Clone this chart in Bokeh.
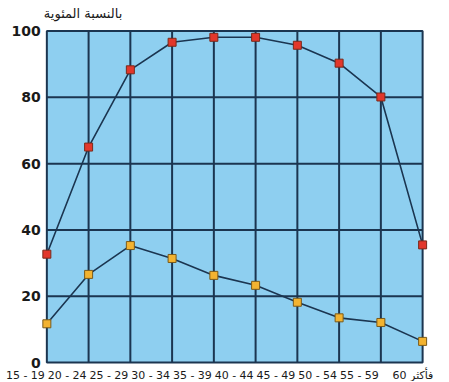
from bokeh.plotting import figure
from bokeh.models import Range1d, FixedTicker
from bokeh.core.properties import value
from bokeh.embed import file_html
from bokeh.resources import INLINE

# ---- data ----
age_groups = ["15 - 19", "20 - 24", "25 - 29", "30 - 34", "35 - 39",
              "40 - 44", "45 - 49", "50 - 54", "55 - 59", "60 فأكثر"]
series_red = [32.7, 65.0, 88.3, 96.6, 98.1, 98.1, 95.7, 90.3, 80.1, 35.5]
series_orange = [11.7, 26.6, 35.3, 31.4, 26.3, 23.3, 18.2, 13.5, 12.1, 6.4]
y_ticks = [0, 20, 40, 60, 80, 100]
y_title = "بالنسبة المئوية"

idx = list(range(len(age_groups)))

NAVY = "#1b3550"
BLUE = "#8ecff0"
TEXT = "#1a1a1a"

p = figure(frame_width=448, frame_height=381,
           min_border_left=0, min_border_right=0,
           min_border_top=0, min_border_bottom=0,
           x_range=Range1d(-1.11, 9.62),
           y_range=Range1d(-5.7, 109.2),
           output_backend="svg", toolbar_location=None,
           background_fill_color="white", border_fill_color="white")
p.outline_line_color = None
p.xgrid.visible = False
p.ygrid.visible = False
p.xaxis.visible = False

# y axis, pinned to the left edge of the chart area
p.yaxis.fixed_location = idx[0]
p.yaxis.ticker = FixedTicker(ticks=y_ticks)
p.yaxis.axis_line_color = None
p.yaxis.major_tick_line_color = None
p.yaxis.minor_tick_line_color = None
p.yaxis.major_tick_out = 0
p.yaxis.major_tick_in = 0
p.yaxis.major_label_standoff = 6
p.yaxis.major_label_text_font = "DejaVu Sans"
p.yaxis.major_label_text_font_style = "bold"
p.yaxis.major_label_text_font_size = "14px"
p.yaxis.major_label_text_color = TEXT

# plot area background + border
p.quad(left=idx[0], right=idx[-1], bottom=y_ticks[0], top=y_ticks[-1],
       fill_color=BLUE, line_color=NAVY, line_width=2)

# grid lines
p.segment(x0=idx[1:-1], y0=[y_ticks[0]] * (len(idx) - 2),
          x1=idx[1:-1], y1=[y_ticks[-1]] * (len(idx) - 2),
          line_color=NAVY, line_width=2)
inner_y = y_ticks[1:-1]
p.segment(x0=[idx[0]] * len(inner_y), y0=inner_y,
          x1=[idx[-1]] * len(inner_y), y1=inner_y,
          line_color=NAVY, line_width=2)

# series
p.line(idx, series_red, line_color=NAVY, line_width=1.6)
p.line(idx, series_orange, line_color=NAVY, line_width=1.6)
p.scatter(idx, series_red, marker="square", size=8,
          fill_color="#e2372b", line_color="#7a2a1a", line_width=1)
p.scatter(idx, series_orange, marker="square", size=8,
          fill_color="#f3b330", line_color="#7a5a1a", line_width=1)

# x category labels
p.text(x=idx[:-1], y=[y_ticks[0]] * (len(idx) - 1), text=age_groups[:-1],
       text_align="right", text_baseline="middle",
       x_offset=-2, y_offset=13,
       text_font=value("DejaVu Sans"), text_font_size="11px",
       text_color=TEXT)
p.text(x=[idx[-1]], y=[y_ticks[0]], text=[age_groups[-1]],
       text_align="left", text_baseline="middle",
       x_offset=-30, y_offset=13,
       text_font=value("DejaVu Sans"), text_font_size="11px",
       text_color=TEXT)

# y title
p.text(x=[idx[0]], y=[y_ticks[-1]], text=[y_title],
       text_align="left", text_baseline="bottom",
       x_offset=-3, y_offset=-10,
       text_font=value("DejaVu Sans"), text_font_size="13px",
       text_color=TEXT)

open("out.html", "w").write(file_html(p, INLINE))
